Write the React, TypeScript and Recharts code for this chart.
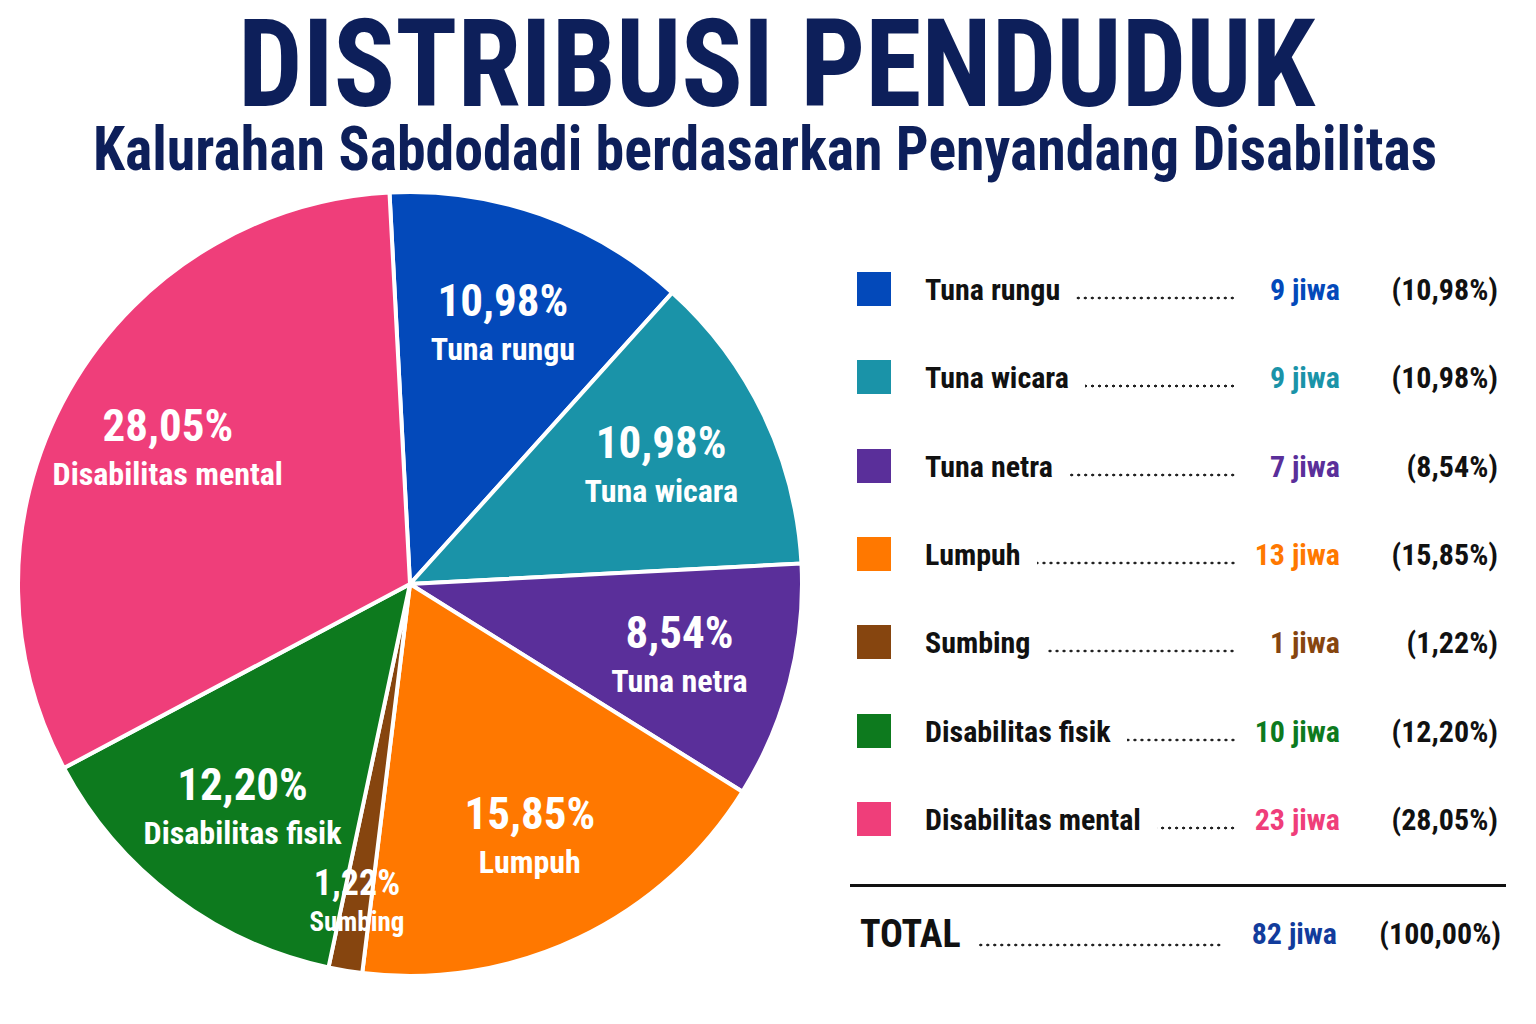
import { PieChart, Pie, Cell } from "recharts";

/* =========================
   DATA
========================= */
const categories = [
  "Tuna rungu",
  "Tuna wicara",
  "Tuna netra",
  "Lumpuh",
  "Sumbing",
  "Disabilitas fisik",
  "Disabilitas mental",
];
const jiwa = [9, 9, 7, 13, 1, 10, 23];
const percentLabels = ["10,98%", "10,98%", "8,54%", "15,85%", "1,22%", "12,20%", "28,05%"];
const colors = ["#0349BA", "#1A93A8", "#5A2F9A", "#FF7800", "#86450F", "#0D7A1E", "#EF3E7A"];
const totalJiwa = 82;
const totalPercent = "100,00%";

const title = "DISTRIBUSI PENDUDUK";
const subtitle = "Kalurahan Sabdodadi berdasarkan Penyandang Disabilitas";

const FONT = "'Roboto Condensed', 'Liberation Sans Narrow', 'DejaVu Sans Condensed', sans-serif";
const NAVY = "#0D1F5A";
const RAD = Math.PI / 180;

const pieData = categories.map((name, i) => ({ name, value: jiwa[i] }));

/* =========================
   SLICE LABEL
========================= */
const renderLabel = (props: any) => {
  const { cx, cy, midAngle, outerRadius, index } = props;
  const small = jiwa[index] < 3;
  const r = outerRadius * (small ? 0.82 : 0.71);
  const x = cx + r * Math.cos(-midAngle * RAD);
  const y = cy + r * Math.sin(-midAngle * RAD);
  return (
    <g key={`lbl-${index}`}>
      <text
        x={x}
        y={y - 6}
        textAnchor="middle"
        fill="#fff"
        fontFamily={FONT}
        fontWeight={700}
        fontSize={small ? 36 : 45}
      >
        {percentLabels[index]}
      </text>
      <text
        x={x}
        y={y + (small ? 30 : 38)}
        textAnchor="middle"
        fill="#fff"
        fontFamily={FONT}
        fontWeight={700}
        fontSize={small ? 27 : 32}
      >
        {categories[index]}
      </text>
    </g>
  );
};

/* =========================
   LEGEND ROW
========================= */
const Row = ({
  top,
  left,
  label,
  labelSize,
  value,
  valueColor,
  pct,
  leaderEnd,
  valueRight,
  pctRight,
  swatch,
}: any) => (
  <div style={{ position: "absolute", left: 0, top, width: 1536, height: 44, fontFamily: FONT, fontWeight: 700 }}>
    {swatch && (
      <div style={{ position: "absolute", left: 857, top: 4, width: 34, height: 34, background: swatch }} />
    )}
    <div
      style={{
        position: "absolute",
        left,
        top: 0,
        width: leaderEnd - left,
        height: 44,
        display: "flex",
        alignItems: "baseline",
        lineHeight: "44px",
      }}
    >
      <span style={{ fontSize: labelSize, color: "#111", whiteSpace: "nowrap", flex: "none" }}>{label}</span>
      <div
        style={{
          flex: 1,
          minWidth: 0,
          height: 4,
          marginLeft: 16,
          backgroundImage: "radial-gradient(circle, #222 1.2px, transparent 1.7px)",
          backgroundSize: "7px 4px",
          backgroundRepeat: "repeat-x",
          backgroundPosition: "right bottom",
        }}
      />
    </div>
    <div
      style={{
        position: "absolute",
        left: valueRight - 160,
        width: 160,
        top: 0,
        textAlign: "right",
        fontSize: 30,
        lineHeight: "44px",
        color: valueColor,
      }}
    >
      {value}
    </div>
    <div
      style={{
        position: "absolute",
        left: pctRight - 200,
        width: 200,
        top: 0,
        textAlign: "right",
        fontSize: 30,
        lineHeight: "44px",
        color: "#111",
      }}
    >
      {pct}
    </div>
  </div>
);

/* =========================
   COMPONENT
========================= */
export default function App() {
  return (
    <div
      style={{
        position: "absolute",
        left: 0,
        top: 0,
        width: 1536,
        height: 1024,
        background: "#fff",
        overflow: "hidden",
      }}
    >
      <PieChart width={1536} height={1024} margin={{ top: 0, right: 0, bottom: 0, left: 0 }}>
        <Pie
          data={pieData}
          dataKey="value"
          nameKey="name"
          cx={410}
          cy={584}
          outerRadius={392}
          startAngle={93}
          endAngle={-267}
          stroke="#fff"
          strokeWidth={4}
          labelLine={false}
          label={renderLabel}
          isAnimationActive={false}
        >
          {pieData.map((d, i) => (
            <Cell key={d.name} fill={colors[i]} />
          ))}
        </Pie>
      </PieChart>

      {/* ===== TITLES ===== */}
      <svg
        width={1536}
        height={190}
        style={{ position: "absolute", left: 0, top: 0, pointerEvents: "none" }}
      >
        <text
          x={238}
          y={106}
          textLength={1077}
          lengthAdjust="spacingAndGlyphs"
          fontFamily={FONT}
          fontWeight={700}
          fontSize={122}
          fill={NAVY}
        >
          {title}
        </text>
        <text
          x={93}
          y={170}
          textLength={1344}
          lengthAdjust="spacingAndGlyphs"
          fontFamily={FONT}
          fontWeight={700}
          fontSize={62}
          fill={NAVY}
        >
          {subtitle}
        </text>
      </svg>

      {/* ===== LEGEND ===== */}
      {categories.map((c, i) => (
        <Row
          key={c}
          top={268 + i * 88.3}
          left={925}
          label={c}
          labelSize={30}
          value={`${jiwa[i]} jiwa`}
          valueColor={colors[i]}
          pct={`(${percentLabels[i]})`}
          leaderEnd={1236}
          valueRight={1340}
          pctRight={1498}
          swatch={colors[i]}
        />
      ))}

      <div
        style={{
          position: "absolute",
          left: 850,
          top: 884,
          width: 656,
          height: 3,
          background: "#111",
        }}
      />

      <Row
        top={912}
        left={860}
        label="TOTAL"
        labelSize={38}
        value={`${totalJiwa} jiwa`}
        valueColor="#123C9C"
        pct={`(${totalPercent})`}
        leaderEnd={1222}
        valueRight={1337}
        pctRight={1501}
      />
    </div>
  );
}
